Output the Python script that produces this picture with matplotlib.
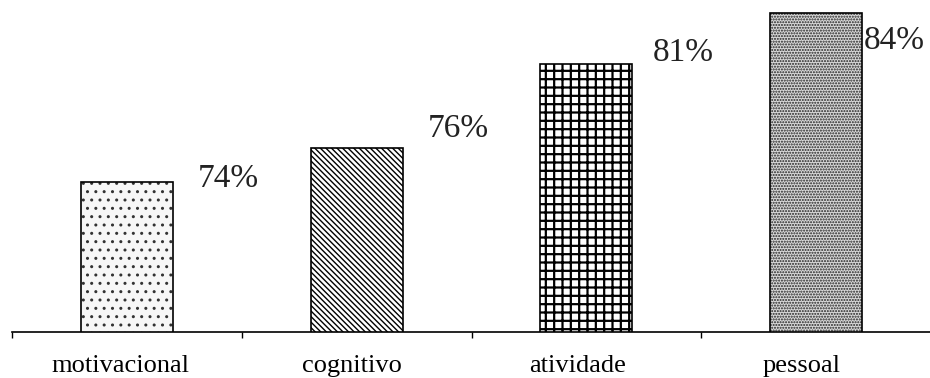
import matplotlib
matplotlib.use("Agg")
import matplotlib.pyplot as plt
from matplotlib.transforms import blended_transform_factory

categories = ["motivacional", "cognitivo", "atividade", "pessoal"]
values = [74, 76, 81, 84]
value_labels = ["74%", "76%", "81%", "84%"]

# layout / style (not data)
hatches = ["..", "\\" * 6, "++", "......"]
hatch_colors = ["#333333", "black", "black", "#222222"]
face_colors = ["#f7f7f7", "white", "white", "#d9d9d9"]
hatch_lws = [1.0, 1.0, 1.6, 1.0]
pct_offsets = [(18, -3.6), (18, 7.9), (14.4, 2.2), (1.4, -25.9)]  # points from bar top-right
cat_offsets = [-4.7, -3.6, -6.5, -10.8]  # points

plt.rcParams["font.family"] = ["Liberation Serif", "DejaVu Serif"]

fig = plt.figure(figsize=(9.3, 3.78), dpi=100)
ax = fig.add_axes([12 / 930, 46 / 378, 919 / 930, 332 / 378])

x = list(range(len(categories)))
width = 0.4
for i, (xi, v) in enumerate(zip(x, values)):
    b = ax.bar(xi, v, width=width, bottom=0, color=face_colors[i],
               edgecolor=hatch_colors[i], linewidth=0, hatch=hatches[i], zorder=2)
    for p in b.patches:
        if hasattr(p, "set_hatch_linewidth"):
            p.set_hatch_linewidth(hatch_lws[i])
    ax.bar(xi, v, width=width, bottom=0, fill=False, edgecolor="black",
           linewidth=1.2, zorder=3)
    dx, dy = pct_offsets[i]
    ax.annotate(value_labels[i], xy=(xi + width / 2, v), xytext=(dx, dy),
                textcoords="offset points", ha="left", va="baseline",
                fontsize=24, color="#222222")

ax.set_xlim(-0.5, 3.5)
ax.set_ylim(65.07, 84.8)

for s in ["top", "right", "left"]:
    ax.spines[s].set_visible(False)
ax.spines["bottom"].set_linewidth(1.2)
ax.set_yticks([])
ax.set_xticks([-0.5, 0.5, 1.5, 2.5, 3.5])
ax.set_xticklabels([])
ax.tick_params(axis="x", direction="out", length=4, width=1.0, color="black")

trans = blended_transform_factory(ax.transData, ax.transAxes)
for i, c in enumerate(categories):
    ax.annotate(c, xy=(x[i], 0), xycoords=trans, xytext=(cat_offsets[i], -28.8),
                textcoords="offset points", ha="center", va="baseline",
                fontsize=19, color="black", annotation_clip=False)

fig.savefig("out.png", dpi=100)
